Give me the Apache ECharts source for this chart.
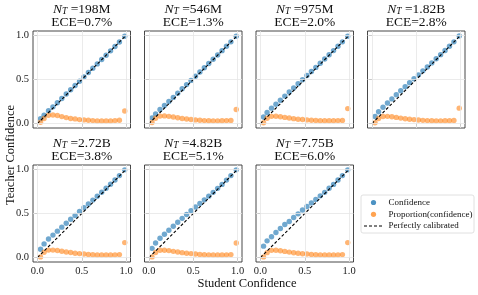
<!DOCTYPE html>
<html><head><meta charset="utf-8">
<script src="https://cdn.jsdelivr.net/npm/echarts@6/dist/echarts.min.js"></script>
<style>html,body{margin:0;padding:0;background:#fff}#c{width:478px;height:295px}</style>
</head><body><div id="c"></div>
<script>
// ---- data ----
const studentConf = [0.035,0.075,0.125,0.175,0.225,0.275,0.325,0.375,0.425,0.475,0.525,0.575,0.625,0.675,0.725,0.775,0.825,0.875,0.925,0.985];
const modelSizes = ['198M','546M','975M','1.82B','2.72B','4.82B','7.75B'];
const eceValues = ['0.7%','1.3%','2.0%','2.8%','3.8%','5.1%','6.0%'];
const teacherConf198M = [0.055,0.095,0.145,0.19,0.237,0.285,0.335,0.383,0.432,0.481,0.53,0.579,0.628,0.677,0.727,0.775,0.825,0.875,0.925,0.99];
const teacherConf546M = [0.065,0.11,0.16,0.205,0.25,0.297,0.345,0.395,0.442,0.49,0.537,0.585,0.633,0.681,0.73,0.778,0.827,0.877,0.927,0.99];
const teacherConf975M = [0.075,0.125,0.175,0.22,0.265,0.312,0.358,0.405,0.452,0.498,0.545,0.591,0.637,0.685,0.732,0.78,0.828,0.877,0.927,0.99];
const teacherConf182B = [0.08,0.135,0.185,0.234,0.28,0.327,0.373,0.419,0.464,0.508,0.553,0.598,0.643,0.688,0.735,0.782,0.829,0.877,0.927,0.993];
const teacherConf272B = [0.095,0.155,0.21,0.255,0.3,0.345,0.39,0.435,0.478,0.522,0.565,0.608,0.652,0.696,0.741,0.786,0.832,0.88,0.93,0.995];
const teacherConf482B = [0.105,0.165,0.22,0.265,0.31,0.355,0.4,0.445,0.489,0.533,0.574,0.614,0.655,0.697,0.74,0.785,0.83,0.879,0.93,0.995];
const teacherConf775B = [0.13,0.19,0.237,0.285,0.33,0.375,0.41,0.455,0.496,0.54,0.58,0.62,0.66,0.7,0.74,0.786,0.83,0.88,0.93,0.995];
const proportion198M = [0.015,0.057,0.094,0.098,0.091,0.079,0.068,0.057,0.053,0.045,0.042,0.038,0.034,0.03,0.03,0.03,0.03,0.034,0.038,0.143];
const proportion546M = [0.012,0.06,0.085,0.087,0.082,0.074,0.066,0.058,0.052,0.047,0.042,0.038,0.034,0.032,0.031,0.031,0.032,0.034,0.036,0.16];
const proportion975M = [0.01,0.06,0.082,0.083,0.078,0.07,0.063,0.056,0.05,0.046,0.042,0.038,0.035,0.033,0.032,0.032,0.033,0.034,0.036,0.17];
const proportion182B = [0.01,0.058,0.08,0.082,0.077,0.07,0.062,0.055,0.05,0.045,0.041,0.037,0.034,0.032,0.031,0.031,0.032,0.033,0.035,0.175];
const proportion272B = [0.008,0.06,0.085,0.085,0.08,0.072,0.064,0.057,0.05,0.045,0.04,0.036,0.033,0.03,0.03,0.03,0.03,0.031,0.034,0.17];
const proportion482B = [0.008,0.058,0.083,0.084,0.079,0.071,0.063,0.056,0.05,0.045,0.04,0.036,0.033,0.031,0.03,0.03,0.03,0.031,0.034,0.165];
const proportion775B = [0.008,0.056,0.082,0.083,0.078,0.07,0.062,0.055,0.049,0.044,0.04,0.036,0.033,0.031,0.03,0.03,0.03,0.031,0.034,0.17];
const diagonal = [[0,0],[1,1]];
const tickValues = [0, 0.5, 1];
const tickLabels = ['0.0','0.5','1.0'];
const legendLabels = ['Confidence','Proportion(confidence)','Perfectly calibrated'];

const teacherAll = [teacherConf198M,teacherConf546M,teacherConf975M,teacherConf182B,teacherConf272B,teacherConf482B,teacherConf775B];
const propAll = [proportion198M,proportion546M,proportion975M,proportion182B,proportion272B,proportion482B,proportion775B];

// ---- layout ----
const FONT = '"Liberation Serif", "DejaVu Serif", serif';
const colLeft = [33, 144.5, 256, 367.5];
const rowTop = [31, 165];
const W = 97.5, H = 97;
const BLUE = 'rgba(31,119,180,0.8)';
const ORANGE = 'rgba(255,127,14,0.72)';

const grids = [], xAxes = [], yAxes = [], series = [], titles = [];
for (let i = 0; i < 7; i++) {
  const r = i < 4 ? 0 : 1, c = i < 4 ? i : i - 4;
  grids.push({left: colLeft[c], top: rowTop[r], width: W, height: H, show: true,
    borderColor: '#333', borderWidth: 0.9, backgroundColor: 'transparent'});
  const showX = r === 1;
  const showY = c === 0;
  const lab = (show) => ({show: show, customValues: tickValues, fontFamily: FONT, fontSize: 10.5, color: '#222', margin: 4,
      formatter: v => tickLabels[tickValues.indexOf(Math.round(v*10)/10)] });
  xAxes.push({gridIndex: i, type: 'value', min: -0.05, max: 1.05,
    axisLine: {show: false}, axisTick: {show: true, customValues: tickValues, length: 3, lineStyle: {color: '#333', width: 0.8}},
    axisLabel: lab(showX), splitLine: {show: false}});
  yAxes.push({gridIndex: i, type: 'value', min: -0.05, max: 1.05,
    axisLine: {show: false}, axisTick: {show: true, customValues: tickValues, length: 3, lineStyle: {color: '#333', width: 0.8}},
    axisLabel: lab(showY), splitLine: {show: false}});
  // grid lines
  series.push({type: 'line', xAxisIndex: i, yAxisIndex: i, data: [], silent: true, z: 1,
    markLine: {silent: true, symbol: 'none', animation: false, label: {show: false},
      lineStyle: {color: '#e6e6e6', width: 0.8, type: 'solid'},
      data: tickValues.map(v => ({xAxis: v})).concat(tickValues.map(v => ({yAxis: v})))}});
  series.push({type: 'scatter', xAxisIndex: i, yAxisIndex: i, symbolSize: 5.4, z: 3,
    itemStyle: {color: BLUE}, data: studentConf.map((x, k) => [x, teacherAll[i][k]])});
  series.push({type: 'scatter', xAxisIndex: i, yAxisIndex: i, symbolSize: 5.4, z: 3,
    itemStyle: {color: ORANGE}, data: studentConf.map((x, k) => [x, propAll[i][k]])});
  series.push({type: 'line', xAxisIndex: i, yAxisIndex: i, data: diagonal, symbol: 'none', z: 4,
    lineStyle: {color: '#000', width: 1.1, type: [3, 2]}});
  titles.push({left: colLeft[c] + W / 2, top: rowTop[r] - 28.5, textAlign: 'center', padding: 0,
    text: '{n|N}{t|T}{r| =' + modelSizes[i] + '}\n{r|ECE=' + eceValues[i] + '}',
    textStyle: {fontWeight: 'normal', rich: {
      n: {fontFamily: FONT, fontSize: 13.5, fontStyle: 'italic', fontWeight: 'normal', color: '#111', lineHeight: 13.5},
      t: {fontFamily: FONT, fontSize: 9.5, fontStyle: 'italic', fontWeight: 'normal', color: '#111', lineHeight: 7, verticalAlign: 'bottom'},
      r: {fontFamily: FONT, fontSize: 13.5, fontWeight: 'normal', color: '#111', lineHeight: 13.5}
    }}});
}

const lx = 361, ly = 195;
const graphic = [
  {type: 'text', rotation: Math.PI / 2, x: 4, y: 205,
   style: {text: 'Teacher Confidence', font: '12.5px ' + FONT, fill: '#111'}},
  {type: 'text', x: 247, y: 284, style: {text: 'Student Confidence', font: '12.5px ' + FONT, fill: '#111', textAlign: 'center', textVerticalAlign: 'middle'}},
  {type: 'rect', shape: {x: lx, y: ly, width: 113, height: 38, r: 2}, style: {fill: '#fff', stroke: '#d8d8d8', lineWidth: 0.8}, z: 10},
  {type: 'circle', shape: {cx: 373.5, cy: 202.5, r: 2.6}, style: {fill: BLUE}, z: 11},
  {type: 'circle', shape: {cx: 373.5, cy: 214.3, r: 2.6}, style: {fill: ORANGE}, z: 11},
  {type: 'line', shape: {x1: 364, y1: 226, x2: 383, y2: 226}, style: {stroke: '#000', lineWidth: 1, lineDash: [3, 2]}, z: 11},
  {type: 'text', x: 388.5, y: 202.5, style: {text: legendLabels[0], font: '9px ' + FONT, fill: '#111', textVerticalAlign: 'middle'}, z: 11},
  {type: 'text', x: 388.5, y: 214.3, style: {text: legendLabels[1], font: '9px ' + FONT, fill: '#111', textVerticalAlign: 'middle'}, z: 11},
  {type: 'text', x: 388.5, y: 226, style: {text: legendLabels[2], font: '9px ' + FONT, fill: '#111', textVerticalAlign: 'middle'}, z: 11}
];

const chart = echarts.init(document.getElementById('c'), null, {renderer: 'canvas'});
chart.setOption({animation: false, backgroundColor: '#fff', title: titles, grid: grids,
  xAxis: xAxes, yAxis: yAxes, series: series, graphic: graphic});
</script></body></html>
